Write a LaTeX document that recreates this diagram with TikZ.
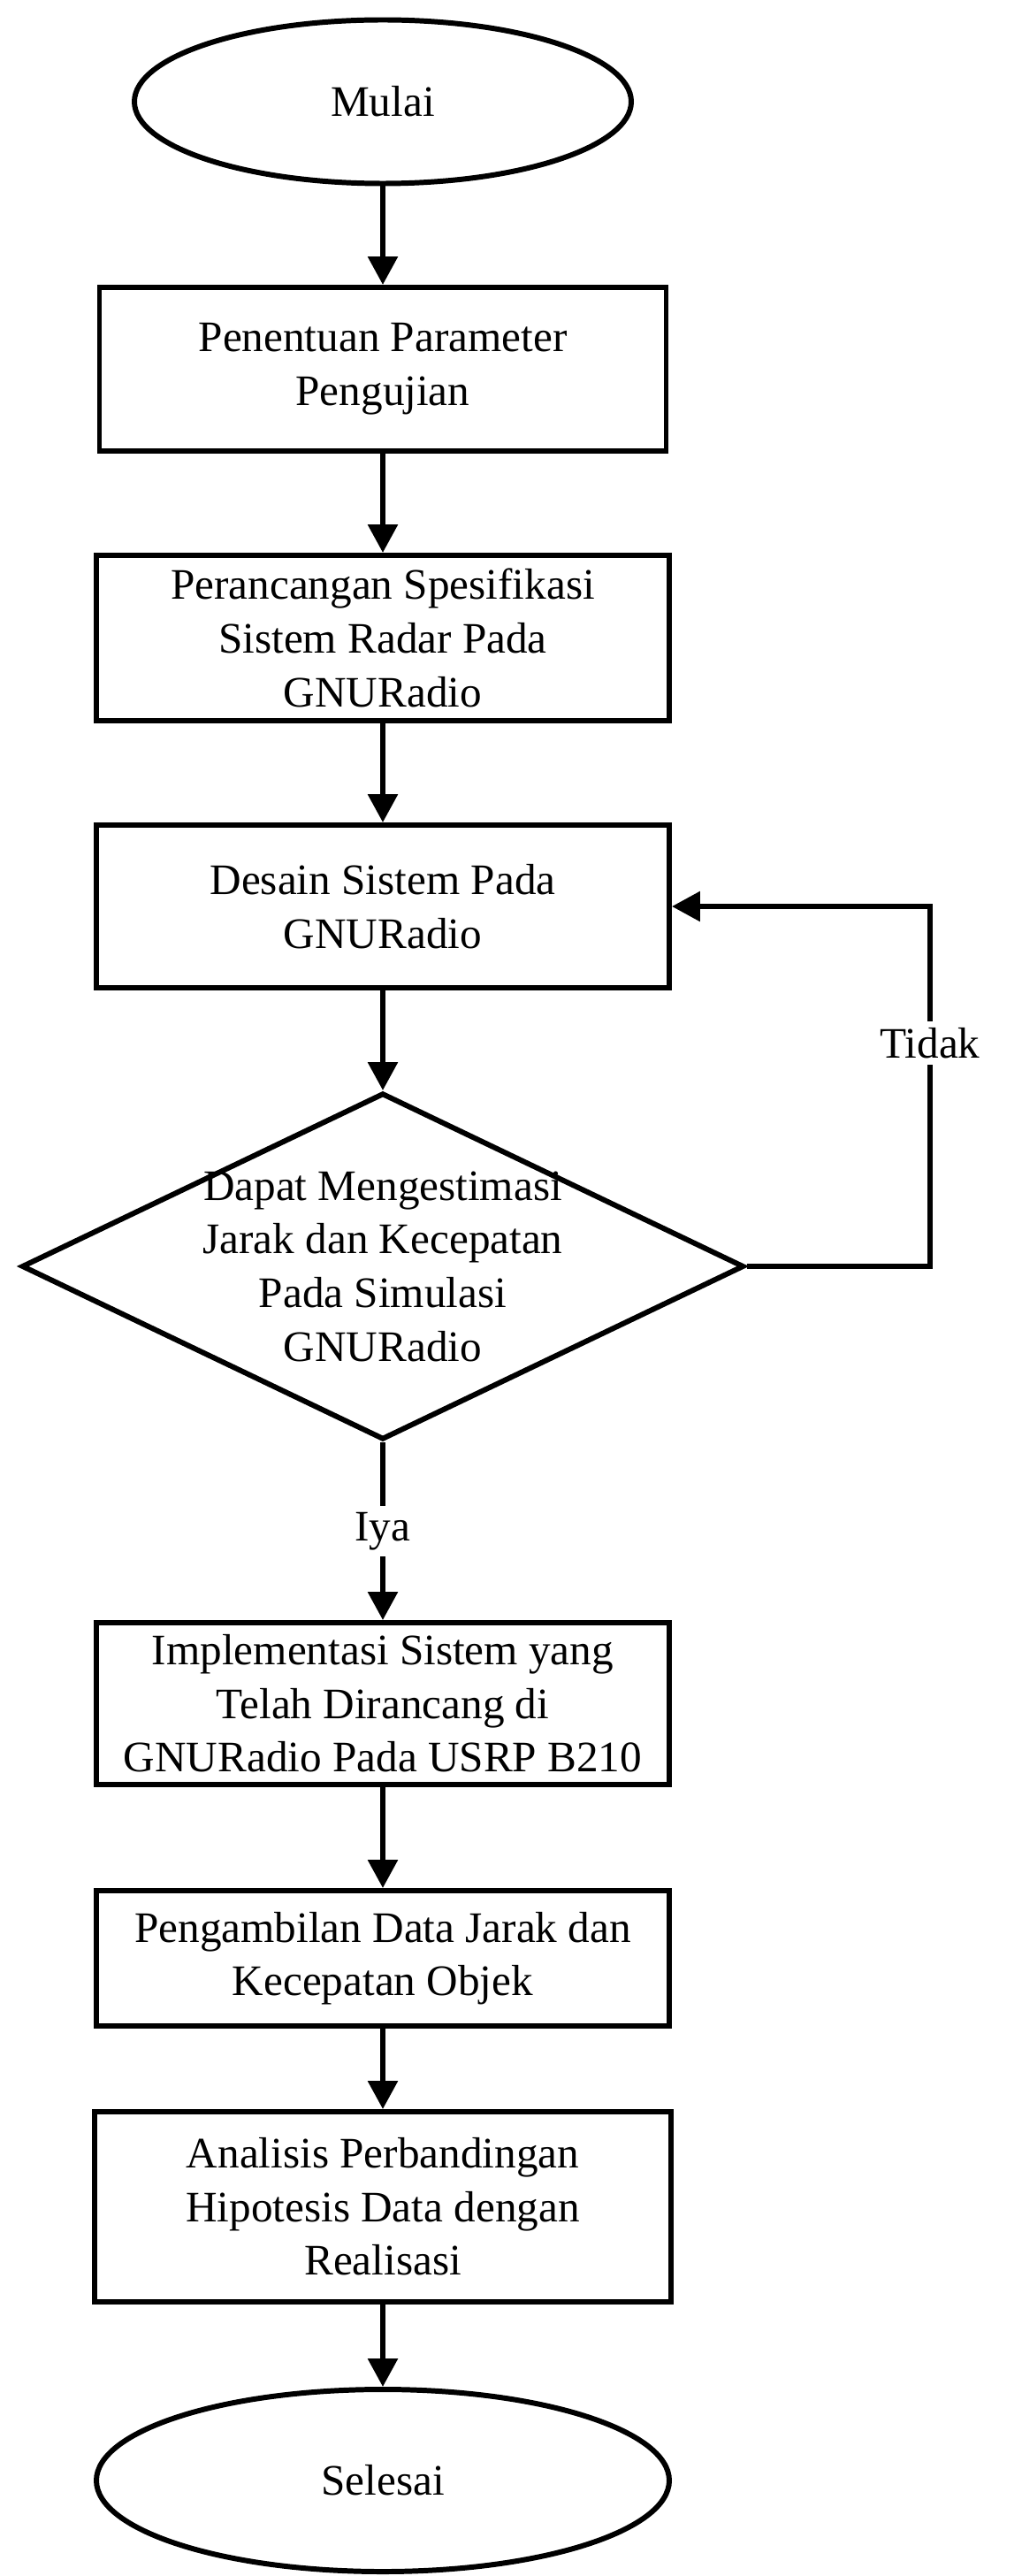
\documentclass[tikz,border=0pt]{standalone}
\usepackage{fontspec}
\setmainfont{Liberation Serif}
\usetikzlibrary{shapes.geometric}
\usetikzlibrary{arrows.meta}

\begin{document}
\begin{tikzpicture}[
    every node/.style={font=\fontsize{14}{17.25}\selectfont},
    proses/.style={draw, line width=1.7pt, minimum width=6.48cm, align=center, inner sep=0pt},
    terminal/.style={draw, ellipse, line width=1.7pt, minimum width=5.62cm, minimum height=1.85cm},
    panah/.style={line width=1.7pt, -{Triangle[length=3.2mm,width=3.3mm]}}
]
    \useasboundingbox (0,0) rectangle (11.56,-29.13);
    \node[terminal] (mulai) at (4.33,-1.15) {Mulai};
    \node[proses, minimum width=6.41cm, minimum height=1.85cm] (parameter) at (4.33,-4.175) {Penentuan Parameter\\Pengujian};
    \node[proses, minimum height=1.87cm] (spesifikasi) at (4.33,-7.215) {Perancangan Spesifikasi\\Sistem Radar Pada\\GNURadio};
    \node[proses, minimum height=1.84cm] (desain) at (4.33,-10.25) {Desain Sistem Pada\\GNURadio};
    \node[draw, diamond, line width=1.7pt, minimum width=8.17cm, minimum height=3.92cm, inner sep=0pt] (estimasi) at (4.33,-14.32) {};
    \node[align=center] (estimasiteks) at (estimasi) {Dapat Mengestimasi\\Jarak dan Kecepatan\\Pada Simulasi\\GNURadio};
    \node[proses, minimum height=1.83cm] (implementasi) at (4.33,-19.265) {Implementasi Sistem yang\\Telah Dirancang di\\GNURadio Pada USRP B210};
    \node[proses, minimum height=1.53cm] (pengambilan) at (4.33,-22.145) {Pengambilan Data Jarak dan\\Kecepatan Objek};
    \node[proses, minimum width=6.52cm, minimum height=2.15cm] (analisis) at (4.33,-24.955) {Analisis Perbandingan\\Hipotesis Data dengan\\Realisasi};
    \node[terminal, minimum width=6.48cm, minimum height=2.06cm] (selesai) at (4.33,-28.05) {Selesai};

    \foreach \a/\b in {mulai/parameter, parameter/spesifikasi, spesifikasi/desain, desain/estimasi, implementasi/pengambilan, pengambilan/analisis, analisis/selesai}
        \draw[panah] (\a) -- (\b);
    \draw[panah] (estimasi) -- node[fill=white, inner sep=2pt] (iya) {Iya} (implementasi);
    \coordinate (belok) at (10.52,-10.25);
    \draw[panah] (estimasi.east) -| node[pos=0.81, fill=white, inner sep=2pt] (tidak) {Tidak} (belok) -- (desain.east);
\end{tikzpicture}
\end{document}
